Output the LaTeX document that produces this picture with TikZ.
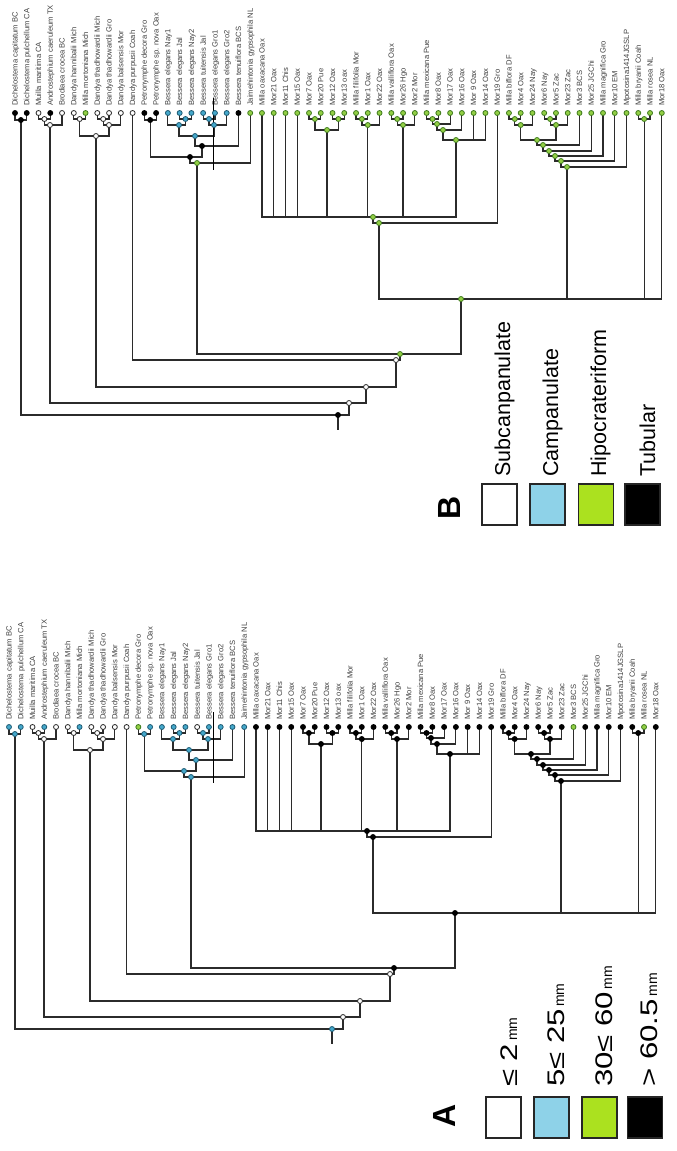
\documentclass[tikz,border=0pt]{standalone}
\usepackage{fontspec}
\setmainfont{Liberation Sans}
\definecolor{lineC}{HTML}{2B2B2B}
\definecolor{blueD}{HTML}{45A8CB}
\definecolor{blueO}{HTML}{1E5A72}
\definecolor{greenD}{HTML}{93CF45}
\definecolor{greenO}{HTML}{3E7A1E}
\definecolor{legBlue}{HTML}{8ED2E8}
\definecolor{legGreen}{HTML}{ABE11F}
\tikzset{
  br/.style={draw=lineC, line width=1.2pt},
  vline/.style={draw=black, line width=0.9pt},
  wdot/.style={fill=white, draw=lineC, line width=0.8pt},
  kdot/.style={fill=black, draw=black, line width=0.8pt},
  bdot/.style={fill=blueD, draw=blueO, line width=0.8pt},
  gdot/.style={fill=greenD, draw=greenO, line width=0.8pt},
  tiplab/.style={font=\fontsize{7.6}{8}\selectfont, text=black!75, inner sep=0pt, anchor=base west, rotate=90},
  legbox/.style={draw=black!85, line width=1.4pt, minimum width=35pt, minimum height=41pt, inner sep=0pt},
  legtxt/.style={font=\fontsize{21.5}{24}\selectfont, inner sep=0pt, anchor=base west, rotate=90},
  legnum/.style={font=\fontsize{24}{26}\selectfont, inner sep=0pt, anchor=base west, rotate=90},
  panel/.style={font=\bfseries\fontsize{32}{34}\selectfont, inner sep=0pt, anchor=base west, rotate=90},
}
\newcommand\mmu{{\fontsize{14}{15}\selectfont mm}}
\newcommand\mktree[1]{%
  \foreach \nm [count=\i] in {Dichelostema capitatum BC,Dichelostema pulchellum CA,Muilla maritima CA,Androstephium caeruleum TX,Brodiaea crocea BC,Dandya hannibalii Mich,Milla mortoniana Mich,Dandya thadhowardii Mich,Dandya thadhowardii Gro,Dandya balsensis Mor,Dandya purpusii Coah,Petronymphe decora Gro,Petronymphe sp. nova Oax,Bessera elegans Nay1,Bessera elegans Jal,Bessera elegans Nay2,Bessera tuitensis Jal,Bessera elegans Gro1,Bessera elegans Gro2,Bessera tenuiflora BCS,Jaimehintonia gypsophila NL,Milla oaxacana Oax,Mor21 Oax,Mor11 Chis,Mor15 Oax,Mor7 Oax,Mor20 Pue,Mor12 Oax,Mor13 oax,Milla filifolia Mor,Mor1 Oax,Mor22 Oax,Milla valliflora Oax,Mor26 Hgo,Mor2 Mor,Milla mexicana Pue,Mor8 Oax,Mor17 Oax,Mor16 Oax,Mor 9 Oax,Mor14 Oax,Mor19 Gro,Milla biflora DF,Mor4 Oax,Mor24 Nay,Mor6 Nay,Mor5 Zac,Mor23 Zac,Mor3 BCS,Mor25 JGChi,Milla magnifica Gro,Mor10 EM,Mpotosina1414JGSLP,Milla bryanii Coah,Milla rosea NL,Mor18 Oax}{%
    \coordinate (#1t\i) at ({15+(\i-1)*11.76},113);
    \node[tiplab] (#1L\i) at ({17.6+(\i-1)*11.76},106) {\nm};
  }
  \coordinate (#1n12) at (20.9,120);
  \coordinate (#1n34) at (44.4,119);
  \coordinate (#1n345) at (50,125);
  \coordinate (#1n67) at (79.7,119);
  \coordinate (#1n89) at (103.2,119);
  \coordinate (#1n8910) at (109,125);
  \coordinate (#1nD) at (96,136);
  \coordinate (#1nP) at (150.2,120);
  \coordinate (#1nJN) at (185.5,119);
  \coordinate (#1nN) at (179,125);
  \coordinate (#1nTG) at (209,119);
  \coordinate (#1nTG2) at (214,125);
  \coordinate (#1nBes) at (195,136);
  \coordinate (#1nBesT) at (202,146);
  \coordinate (#1nPB) at (190,157);
  \coordinate (#1nPBJ) at (197,163);
  \coordinate (#1n2627) at (314.9,119);
  \coordinate (#1n2829) at (338.4,119);
  \coordinate (#1nM7) at (327,130);
  \coordinate (#1nF) at (361.9,119);
  \coordinate (#1nF2) at (367.8,125);
  \coordinate (#1nV) at (397.2,119);
  \coordinate (#1nV2) at (403,125);
  \coordinate (#1na) at (432.5,119);
  \coordinate (#1nb) at (437,124);
  \coordinate (#1nc) at (443,130);
  \coordinate (#1nd) at (456,140);
  \coordinate (#1N1) at (373,217);
  \coordinate (#1N2) at (379,223);
  \coordinate (#1n1) at (514.8,119);
  \coordinate (#1n2) at (520.7,125);
  \coordinate (#1n3) at (550.1,119);
  \coordinate (#1n4) at (556,125);
  \coordinate (#1n5) at (537,140);
  \coordinate (#1n6) at (543,145);
  \coordinate (#1n7) at (549,151);
  \coordinate (#1n8) at (555,156);
  \coordinate (#1n9) at (561,161);
  \coordinate (#1n10) at (567,167);
  \coordinate (#1nBR) at (644.2,119);
  \coordinate (#1M) at (461,299);
  \coordinate (#1nG) at (400,354);
  \coordinate (#1nU) at (396,360);
  \coordinate (#1nD2) at (366,387);
  \coordinate (#1nM2) at (349,403);
  \coordinate (#1root) at (338,415);
  \coordinate (#1stub) at (338,430);
  \foreach \p/\c in {n12/t1,n12/t2,n34/t3,n34/t4,n345/n34,n345/t5,n67/t6,n67/t7,n89/t8,n89/t9,n8910/n89,n8910/t10,nD/n67,nD/n8910,nP/t12,nP/t13,nJN/t15,nJN/t16,nN/t14,nN/nJN,nTG/t17,nTG/t18,nTG2/nTG,nTG2/t19,nBes/nN,nBes/nTG2,nBesT/nBes,nBesT/t20,nPB/nP,nPB/nBesT,nPBJ/nPB,nPBJ/t21,n2627/t26,n2627/t27,n2829/t28,n2829/t29,nM7/n2627,nM7/n2829,nF/t30,nF/t31,nF2/nF,nF2/t32,nV/t33,nV/t34,nV2/nV,nV2/t35,na/t36,na/t37,nb/na,nb/t38,nc/nb,nc/t39,nd/nc,nd/t40,nd/t41,N1/t22,N1/t23,N1/t24,N1/t25,N1/nM7,N1/nF2,N1/nV2,N1/nd,N2/N1,N2/t42,n1/t43,n1/t44,n2/n1,n2/t45,n3/t46,n3/t47,n4/n3,n4/t48,n5/n2,n5/n4,n6/n5,n6/t49,n7/n6,n7/t50,n8/n7,n8/t51,n9/n8,n9/t52,n10/n9,n10/t53,nBR/t54,nBR/t55,M/N2,M/n10,M/nBR,M/t56,nG/nPBJ,nG/M,nU/t11,nU/nG,nD2/nD,nD2/nU,nM2/n345,nM2/nD2,root/n12,root/nM2}{%
    \draw[br] (#1\c) |- (#1\p);
  }
  \draw[br] (#1root) -- (#1stub);
}
\begin{document}
\begin{tikzpicture}[x=1pt,y=-1pt]
\useasboundingbox[fill=white] (0,0) rectangle (677,1151);
% ---------- tree B ----------
\begin{scope}
  \mktree{B}
\end{scope}
\coordinate (Bv1) at (213,98);
\coordinate (Bv2) at (213,170);
\draw[vline] (Bv1) -- (Bv2);
\foreach \n in {t3,t5,t6,t8,t9,t10,t11,n34,n345,n67,n89,n8910,nD,nU,nD2,nM2}{\filldraw[wdot] (B\n) circle (2.5);}
\foreach \n in {t1,t2,n12,t4,t12,t13,nP,t20,nBesT,nPB,root}{\filldraw[kdot] (B\n) circle (2.5);}
\foreach \n in {t14,t15,t16,t17,t18,t19,nJN,nN,nTG,nTG2,nBes}{\filldraw[bdot] (B\n) circle (2.5);}
\foreach \n in {t7,t21,nPBJ,t22,t23,t24,t25,t26,t27,t28,t29,t30,t31,t32,t33,t34,t35,t36,t37,t38,t39,t40,t41,t42,t43,t44,t45,t46,t47,t48,t49,t50,t51,t52,t53,t54,t55,t56,n2627,n2829,nM7,nF,nF2,nV,nV2,na,nb,nc,nd,N1,N2,n1,n2,n3,n4,n5,n6,n7,n8,n9,n10,nBR,M,nG}{\filldraw[gdot] (B\n) circle (2.5);}
% ---------- tree A ----------
\begin{scope}[shift={(-6,614)}]
  \mktree{A}
\end{scope}
\coordinate (Av1) at (213,712);
\coordinate (Av2) at (213,783);
\draw[vline] (Av1) -- (Av2);
\foreach \n in {t3,t5,t6,t8,t9,t10,t11,t17,n34,n345,n67,n89,n8910,nD,nU,nD2,nM2}{\filldraw[wdot] (A\n) circle (2.5);}
\foreach \n in {t1,t2,n12,t4,t7,t13,nP,t14,t15,t16,t18,t19,t20,t21,nJN,nN,nTG,nTG2,nBes,nBesT,nPB,nPBJ,root}{\filldraw[bdot] (A\n) circle (2.5);}
\foreach \n in {t12,t49,t55}{\filldraw[gdot] (A\n) circle (2.5);}
\foreach \n in {t22,t23,t24,t25,t26,t27,t28,t29,t30,t31,t32,t33,t34,t35,t36,t37,t38,t39,t40,t41,t42,t43,t44,t45,t46,t47,t48,t50,t51,t52,t53,t54,t56,n2627,n2829,nM7,nF,nF2,nV,nV2,na,nb,nc,nd,N1,N2,n1,n2,n3,n4,n5,n6,n7,n8,n9,n10,nBR,M,nG}{\filldraw[kdot] (A\n) circle (2.5);}
% ---------- legend B ----------
\node[panel] (labB) at (460,520) {B};
\node[legbox, fill=white] (bB1) at (499.5,504.5) {};
\node[legbox, fill=legBlue] (bB2) at (547.5,504.5) {};
\node[legbox, fill=legGreen] (bB3) at (596,504.5) {};
\node[legbox, fill=black] (bB4) at (642.5,504.5) {};
\node[legtxt] (tB1) at (510,477) {Subcanpanulate};
\node[legtxt] (tB2) at (558,477) {Campanulate};
\node[legtxt] (tB3) at (606,477) {Hipocrateriform};
\node[legtxt] (tB4) at (655,477) {Tubular};
% ---------- legend A ----------
\node[panel] (labA) at (455,1128) {A};
\node[legbox, fill=white] (bA1) at (503.5,1117.5) {};
\node[legbox, fill=legBlue] (bA2) at (551.5,1117.5) {};
\node[legbox, fill=legGreen] (bA3) at (599.5,1117.5) {};
\node[legbox, fill=black] (bA4) at (645,1117.5) {};
\node[legnum] (tA1) at (517,1087) {\scalebox{1.3}[1]{≤ 2}\hspace{3pt}\mmu};
\node[legnum] (tA2) at (564,1087) {\scalebox{1.3}[1]{5≤ 25}\hspace{2pt}\mmu};
\node[legnum] (tA3) at (612,1087) {\scalebox{1.3}[1]{30≤ 60}\hspace{2pt}\mmu};
\node[legnum] (tA4) at (657,1087) {\scalebox{1.3}[1]{> 60.5}\hspace{3pt}\mmu};
\end{tikzpicture}
\end{document}
